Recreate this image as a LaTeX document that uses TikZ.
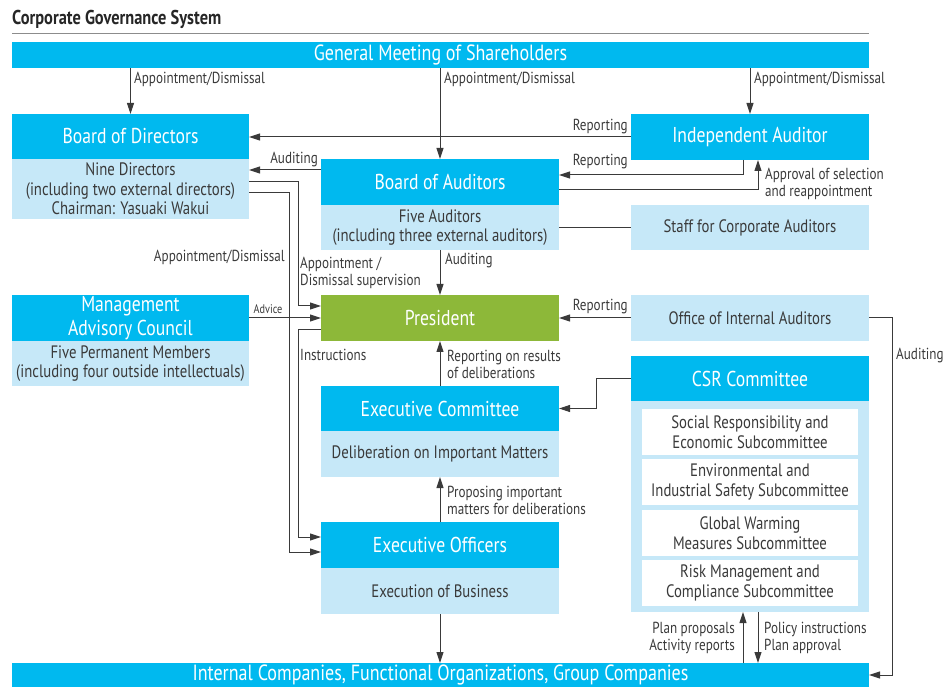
\documentclass[tikz,border=0pt]{standalone}
\usepackage{fontspec}
\setmainfont{PT Sans}[FakeStretch=0.82]
\usetikzlibrary{arrows.meta}
\definecolor{hdrblue}{HTML}{00B9EF}
\definecolor{paleblue}{HTML}{C6E8F8}
\definecolor{pgreen}{HTML}{8DB839}
\definecolor{ink}{HTML}{3A3A3A}
\definecolor{rulegray}{HTML}{8C8C8C}

\tikzset{
  boxbase/.style={anchor=north west, inner sep=0pt, outer sep=0pt, align=center},
  hdr/.style={boxbase, fill=hdrblue, text=white, font=\fontsize{21.5}{24}\selectfont},
  pres/.style={boxbase, fill=pgreen, text=white, font=\fontsize{21.5}{24}\selectfont},
  pale/.style={boxbase, fill=paleblue, text=ink, font=\fontsize{18}{19.5}\selectfont},
  sub/.style={boxbase, fill=white, text=ink, font=\fontsize{18}{19.5}\selectfont},
  lbl/.style={text=ink, inner sep=0pt, font=\fontsize{16}{17}\selectfont},
  link/.style={draw=ink, line width=1pt},
  arr/.style={link, -{Triangle[length=11pt,width=7pt]}},
}

\begin{document}
\begin{tikzpicture}[x=1pt,y=-1pt]
\useasboundingbox (0,0) rectangle (946,687);

% title and rule
\node[anchor=west, inner sep=0pt, text=black!85, font=\fontsize{20}{22}\selectfont\bfseries] (title) at (12,19) {Corporate Governance System};
\draw[rulegray, line width=1pt] (12,34) -- (869,34);

% top and bottom bars
\node[hdr, font=\fontsize{22}{24}\selectfont, minimum width=857pt, minimum height=26pt] (gm) at (12,42) {General Meeting of Shareholders};
\node[hdr, font=\fontsize{22}{24}\selectfont, minimum width=857pt, minimum height=24pt] (bottom) at (12,663) {Internal Companies, Functional Organizations, Group Companies};

% left column
\node[hdr, minimum width=237pt, minimum height=45pt] (bod) at (12,114) {Board of Directors};
\node[pale, minimum width=237pt, minimum height=60pt] (bodb) at (12,159) {Nine Directors\\(including two external directors)\\Chairman: Yasuaki Wakui};
\node[hdr, minimum width=237pt, minimum height=46pt] (mac) at (12,295) {Management\\Advisory Council};
\node[pale, minimum width=237pt, minimum height=45pt] (macb) at (12,341) {Five Permanent Members\\(including four outside intellectuals)};

% middle column
\node[hdr, minimum width=238pt, minimum height=46pt] (boa) at (321,159) {Board of Auditors};
\node[pale, minimum width=238pt, minimum height=45pt] (boab) at (321,205) {Five Auditors\\(including three external auditors)};
\node[pres, minimum width=238pt, minimum height=46pt] (pr) at (321,295) {President};
\node[hdr, minimum width=238pt, minimum height=45pt] (ec) at (321,386) {Executive Committee};
\node[pale, minimum width=238pt, minimum height=46pt] (ecb) at (321,431) {Deliberation on Important Matters};
\node[hdr, minimum width=238pt, minimum height=46pt] (eo) at (321,522) {Executive Officers};
\node[pale, minimum width=238pt, minimum height=46pt] (eob) at (321,568) {Execution of Business};

% right column
\node[hdr, minimum width=238pt, minimum height=46pt] (ia) at (631,114) {Independent Auditor};
\node[pale, minimum width=238pt, minimum height=45pt] (staff) at (631,205) {Staff for Corporate Auditors};
\node[pale, minimum width=238pt, minimum height=46pt] (oia) at (631,295) {Office of Internal Auditors};
\node[hdr, minimum width=238pt, minimum height=45pt] (csr) at (631,356) {CSR Committee};
\node[pale, minimum width=238pt, minimum height=211pt] (csrb) at (631,401) {};
\node[sub, minimum width=216pt, minimum height=46pt] (s1) at (642,409) {Social Responsibility and\\Economic Subcommittee};
\node[sub, minimum width=216pt, minimum height=46pt] (s2) at (642,459) {Environmental and\\Industrial Safety Subcommittee};
\node[sub, minimum width=216pt, minimum height=46pt] (s3) at (642,510) {Global Warming\\Measures Subcommittee};
\node[sub, minimum width=216pt, minimum height=46pt] (s4) at (642,560) {Risk Management and\\Compliance Subcommittee};

% shareholders' appointments
\draw[arr] (gm.south -| bod.north) -- (bod.north);
\draw[arr] (gm.south -| boa.north) -- (boa.north);
\draw[arr] (gm.south -| ia.north) -- (ia.north);
\node[lbl, anchor=west] at (134,79) {Appointment/Dismissal};
\node[lbl, anchor=west] at (444,79) {Appointment/Dismissal};
\node[lbl, anchor=west] at (754,79) {Appointment/Dismissal};

% independent auditor links
\draw[arr] (ia.west) -- (ia.west -| bod.east);
\node[lbl, anchor=east] at (628,127) {Reporting};
\draw[arr] ([xshift=-7pt]ia.south) |- ([yshift=7pt]boa.east);
\node[lbl, anchor=east] at (628,162) {Reporting};
\draw[arr] ([yshift=-8pt]boa.east) -| ([xshift=8pt]ia.south);
\node[lbl, anchor=west, align=left] at (765,184) {Approval of selection\\and reappointment};

% auditors
\draw[arr] ([yshift=12pt]boa.west) -- ([yshift=12pt]boa.west -| bodb.east);
\node[lbl, anchor=east] at (318,160) {Auditing};
\draw[link] (boab.east) -- (staff.west);
\draw[arr] (boab.south) -- (pr.north);
\node[lbl, anchor=west] at (445,261) {Auditing};

% board of directors to president and officers
\draw[arr] ([yshift=7pt]bodb.east) -- ++(49,0) |- ([yshift=12pt]pr.west);
\draw[arr] ([yshift=-4pt]bodb.east) -- ++(40,0) |- ([yshift=-7pt]eo.west);
\node[lbl, anchor=east] at (285,257) {Appointment/Dismissal};
\node[lbl, anchor=west, align=left] at (300,273) {Appointment /\\Dismissal supervision};

% advice and instructions
\draw[arr] (mac.east) -- (pr.west);
\node[lbl, font=\fontsize{12.5}{14}\selectfont] at (268,309) {Advice};
\draw[arr] ([yshift=-12pt]pr.west) -- ++(-23,0) |- ([yshift=8pt]eo.west);
\node[lbl, anchor=west] at (300,355) {Instructions};

% internal auditing
\draw[arr] (oia.west) -- (pr.east);
\node[lbl, anchor=east] at (628,307) {Reporting};
\draw[arr] (oia.east) -- ++(23,0) |- (bottom.east);
\node[lbl, anchor=west] at (896,356) {Auditing};

% executive bodies
\draw[arr] (ec.north) -- (pr.south);
\node[lbl, anchor=west, align=left] at (447,364) {Reporting on results\\of deliberations};
\draw[arr] (csr.west) -- ++(-35,0) |- (ec.east);
\draw[arr] (eo.north) -- (ecb.south);
\node[lbl, anchor=west, align=left] at (447,500) {Proposing important\\matters for deliberations};
\draw[arr] (eob.south) -- (eob.south |- bottom.north);

% CSR committee and group companies
\coordinate (cup) at ([xshift=-7pt]csrb.south);
\coordinate (cdn) at ([xshift=8pt]csrb.south);
\draw[arr] (cup |- bottom.north) -- (cup);
\draw[arr] (cdn) -- (cdn |- bottom.north);
\node[lbl, anchor=east, align=right] at (735,638) {Plan proposals\\Activity reports};
\node[lbl, anchor=west, align=left] at (764,638) {Policy instructions\\Plan approval};
\end{tikzpicture}
\end{document}
